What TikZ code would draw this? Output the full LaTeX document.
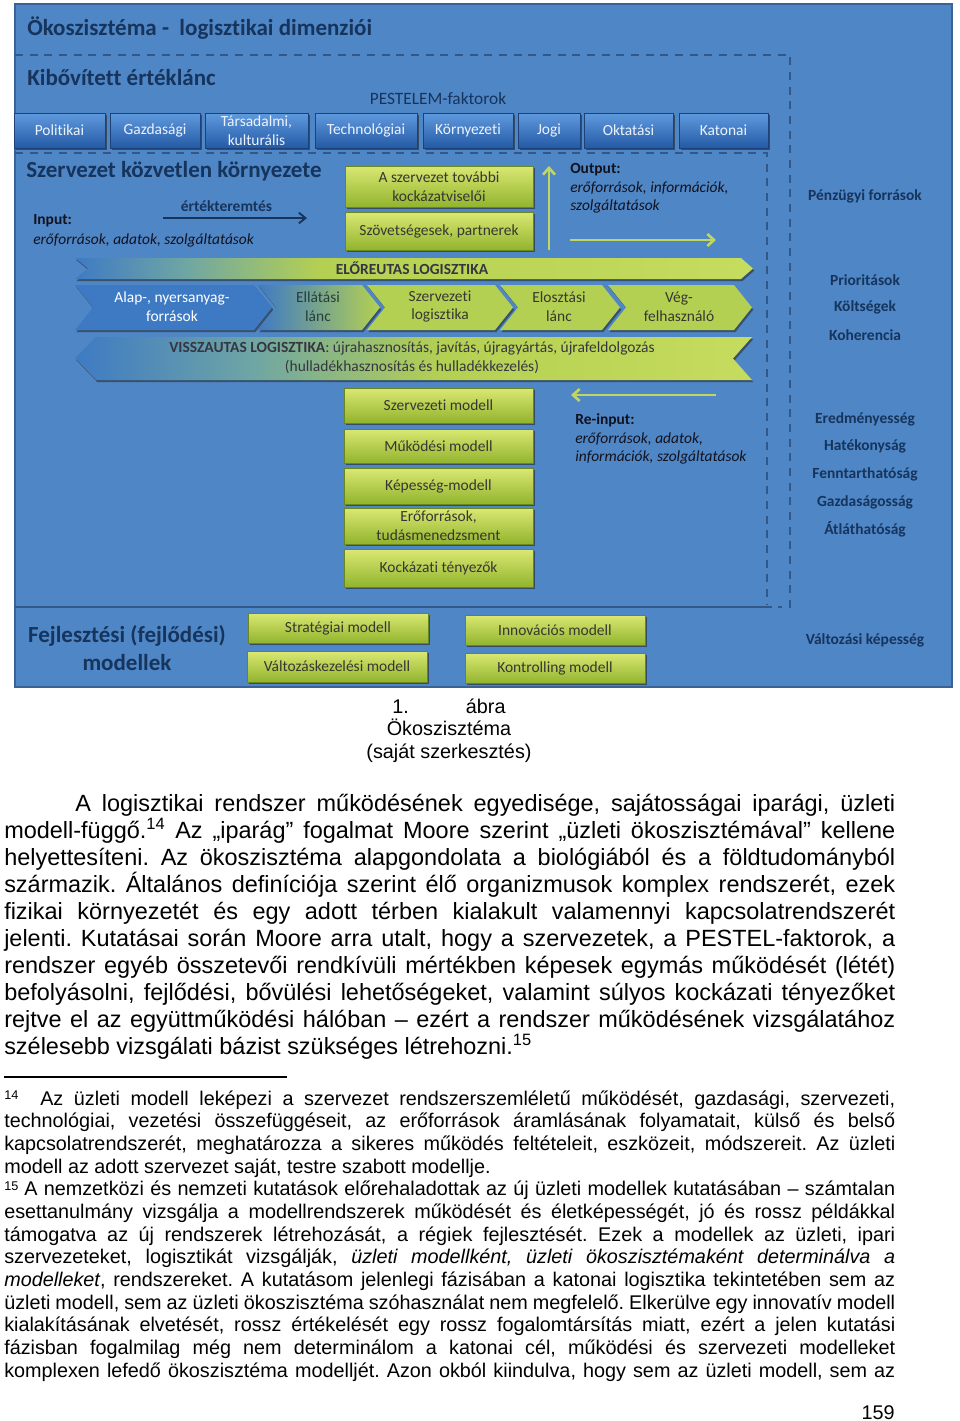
\documentclass[tikz,border=0pt]{standalone}
\usepackage{fontspec}
\setmainfont{Liberation Sans}
\newfontfamily\calfont[Ligatures=NoCommon]{Carlito}
\usetikzlibrary{arrows.meta,shadows}
\frenchspacing
\definecolor{bgblue}{RGB}{79,134,197}
\definecolor{framec}{RGB}{58,98,150}
\definecolor{navy}{RGB}{22,52,92}
\definecolor{dashc}{RGB}{50,88,138}
\definecolor{ptop}{RGB}{96,154,222}
\definecolor{pbot}{RGB}{36,90,165}
\definecolor{pedge}{RGB}{30,65,120}
\definecolor{ptext}{RGB}{236,242,252}
\definecolor{gtop}{RGB}{218,232,114}
\definecolor{gbot}{RGB}{146,180,46}
\definecolor{gedge}{RGB}{105,135,30}
\definecolor{gtext}{RGB}{55,55,50}
\definecolor{chB}{RGB}{62,122,196}
\definecolor{chT}{RGB}{110,165,165}
\definecolor{chG}{RGB}{180,208,82}
\definecolor{chG2}{RGB}{198,220,94}
\definecolor{limec}{RGB}{192,214,96}
\definecolor{ink}{RGB}{18,18,30}
\definecolor{teal}{RGB}{40,62,62}
\pgfdeclarehorizontalshading{fwdsh}{100bp}{color(0bp)=(chB); color(25bp)=(chB); color(33bp)=(chT); color(43bp)=(chG); color(75bp)=(chG2); color(100bp)=(chG2)}
\pgfdeclarehorizontalshading{revsh}{100bp}{color(0bp)=(chB); color(25bp)=(chB); color(38bp)=(chT); color(52bp)=(chG); color(75bp)=(chG2); color(100bp)=(chG2)}
\newdimen\px \px=0.75pt
\newdimen\tw \tw=668.25pt
\newcommand\lbl{\calfont\fontsize{11.6}{14}\selectfont}
\newcommand\lblb{\calfont\bfseries\fontsize{11.6}{14}\selectfont}
\newcommand\lbli{\calfont\itshape\fontsize{11.6}{14}\selectfont}
\newcommand\ttl{\calfont\bfseries\fontsize{17.25}{21}\selectfont}
\newcommand\bodyfont{\fontsize{17.6}{20.25}\selectfont}
\newcommand\fnfont{\fontsize{14.85}{17}\selectfont}
\newcommand\jline[1]{\hbox to\tw{#1}}
\newcommand\lline[1]{\hbox to\tw{#1\hfil}}
\newcommand\fnsup[1]{\raisebox{0.55ex}{\fontsize{9.5}{9.5}\selectfont #1}}
\newcommand\rbox[7]{%
  \node[#6, minimum width={(#4-#2)*0.75pt}, minimum height={(#5-#3)*0.75pt}] (#1) at ({(#2+#4)/2},{(#3+#5)/2}) {#7};}
\newcommand\chev[5]{%
  \path[#5] (#1,#3) -- ({#2-18},#3) -- (#2,{(#3+#4)/2}) -- ({#2-18},#4) -- (#1,#4) -- ({#1+18},{(#3+#4)/2}) -- cycle;}
\begin{document}
\begin{tikzpicture}[x=0.75pt,y=-0.75pt,
  pbox/.style={rectangle, draw=pedge, line width=0.5pt, top color=ptop, bottom color=pbot,
    text=ptext, font=\lbl, align=center, inner sep=0pt,
    drop shadow={shadow xshift=1.2pt, shadow yshift=-1.6pt, opacity=0.6, fill=black!85}},
  gbox/.style={rectangle, draw=gedge, line width=0.5pt, top color=gtop, bottom color=gbot,
    text=gtext, font=\lbl, align=center, inner sep=0pt,
    drop shadow={shadow xshift=1.2pt, shadow yshift=-1.6pt, opacity=0.6, fill=black!85}},
  chshadow/.style={drop shadow={shadow xshift=1pt, shadow yshift=-1.6pt, opacity=0.55, fill=black!85}},
  chtext/.style={font=\lbl, align=center, inner sep=0pt},
  navylbl/.style={text=navy, font=\lblb, inner sep=0pt},
  titlelbl/.style={text=navy, font=\ttl, inner sep=0pt, anchor=west},
  inklbl/.style={text=ink, inner sep=0pt, anchor=west},
  dashline/.style={draw=dashc, line width=1.1pt, dash pattern=on 6pt off 5pt},
  solidline/.style={draw=dashc, line width=1pt},
  greenarrow/.style={draw=limec, line width=2pt, -{Straight Barb[length=5pt,width=9pt]}},
  navyarrow/.style={draw=navy, line width=1.4pt, -{Straight Barb[length=5pt,width=8pt]}},
  bodytext/.style={anchor=north west, inner sep=0pt}]
\useasboundingbox (0,0) rectangle (960,1421);
\fill[white] (0,0) rectangle (960,1421);
% ---------- diagram frame ----------
\path[fill=bgblue, draw=framec, line width=1.2pt] (15,4) rectangle (952,687);
\draw[dashline] (15,55) -- (790,55) -- (790,607) -- (778,607);
\draw[dashline] (15,153) -- (767,153) -- (767,604);
\draw[solidline] (15,607) -- (772,607);
% ---------- titles ----------
\node[titlelbl] (t1) at (27,28) {Ökoszisztéma -\ \ logisztikai dimenziói};
\node[titlelbl] (t2) at (27,78) {Kibővített értéklánc};
\node[titlelbl] (t3) at (26,171) {Szervezet közvetlen környezete};
\node[text=navy, font={\calfont\fontsize{13}{15}\selectfont}, inner sep=0pt] (pest) at (438,99) {PESTELEM-faktorok};
\node[text=navy, font=\ttl, align=center, inner sep=0pt] (fejl) at (127,648) {Fejlesztési (fejlődési)\\modellek};
% ---------- PESTELEM boxes ----------
\rbox{pol}{14}{113}{105}{148}{pbox}{Politikai}
\rbox{gaz}{110}{113}{200}{148}{pbox}{Gazdasági}
\rbox{tars}{205}{113}{308}{148}{pbox}{Társadalmi,\\kulturális}
\rbox{tech}{315}{113}{417}{148}{pbox}{Technológiai}
\rbox{korny}{423}{113}{513}{148}{pbox}{Környezeti}
\rbox{jogi}{518}{113}{580}{148}{pbox}{Jogi}
\rbox{okt}{584}{113}{673}{148}{pbox}{Oktatási}
\rbox{kat}{679}{113}{768}{148}{pbox}{Katonai}
% ---------- green boxes ----------
\rbox{kock}{345}{166}{533}{207}{gbox}{A szervezet további\\kockázatviselői}
\rbox{szov}{345}{212}{533}{250}{gbox}{Szövetségesek, partnerek}
\rbox{szm}{344}{388}{533}{423}{gbox}{Szervezeti modell}
\rbox{mm}{344}{429}{533}{463}{gbox}{Működési modell}
\rbox{km}{344}{468}{533}{504}{gbox}{Képesség-modell}
\rbox{ef}{344}{508}{533}{544}{gbox}{Erőforrások,\\tudásmenedzsment}
\rbox{kt}{344}{549}{533}{587}{gbox}{Kockázati tényezők}
\rbox{strat}{248}{613}{428}{643}{gbox}{Stratégiai modell}
\rbox{valt}{247}{651}{427}{682}{gbox}{Változáskezelési modell}
\rbox{inn}{465}{615}{645}{645}{gbox}{Innovációs modell}
\rbox{kon}{465}{653}{645}{683}{gbox}{Kontrolling modell}
% ---------- forward banner ----------
\shade[shading=fwdsh, chshadow] (75,258) -- (741,258) -- (753,268.5) -- (741,279) -- (75,279) -- (88,268.5) -- cycle;
\node[font=\lblb, text=ink!85, inner sep=0pt] (fwd) at (412,268) {ELŐREUTAS LOGISZTIKA};
% ---------- chevron row ----------
\chev{75}{272}{285}{330}{fill=chB, chshadow}
\chev{258}{380}{285}{330}{left color=chB, right color=chG, chshadow}
\chev{367}{513}{285}{330}{fill=chG, chshadow}
\chev{500}{620}{285}{330}{fill=chG, chshadow}
\chev{608}{752}{285}{330}{fill=chG, chshadow}
\node[chtext, text=white] (alap) at (172,306.5) {Alap-, nyersanyag-\\források};
\node[chtext, text=teal] (ellat) at (318,306.5) {Ellátási\\lánc};
\node[chtext, text=gtext] (szlog) at (440,306.5) {Szervezeti\\logisztika};
\node[chtext, text=gtext] (eloszt) at (559,306.5) {Elosztási\\lánc};
\node[chtext, text=gtext] (veg) at (679,306.5) {Vég-\\felhasználó};
% ---------- reverse banner ----------
\shade[shading=revsh, chshadow] (75,358) -- (96,337) -- (752,337) -- (733,358.5) -- (752,380) -- (96,380) -- cycle;
\node[chtext, text=ink!85] (rev) at (412,357.5) {\textbf{VISSZAUTAS LOGISZTIKA}: újrahasznosítás, javítás, újragyártás, újrafeldolgozás\\(hulladékhasznosítás és hulladékkezelés)};
% ---------- arrows ----------
\coordinate (ertS) at (163,218); \coordinate (ertE) at (307,218);
\draw[navyarrow] (ertS) -- (ertE);
\coordinate (upS) at (549,250); \coordinate (upE) at (549,166);
\draw[greenarrow] (upS) -- (upE);
\coordinate (outS) at (570,240); \coordinate (outE) at (716,240);
\draw[greenarrow] (outS) -- (outE);
\coordinate (reS) at (716,395); \coordinate (reE) at (571,395);
\draw[greenarrow] (reS) -- (reE);
% ---------- small labels ----------
\node[navylbl] (ert) at (226.5,206) {értékteremtés};
\node[inklbl, font=\lblb] (inp) at (33,221) {Input:};
\node[inklbl, font=\lbli] (inp2) at (33,240) {erőforrások, adatok, szolgáltatások};
\node[inklbl, font=\lblb] (outp) at (570,170) {Output:};
\node[inklbl, font=\lbli] (outp2) at (570,188) {erőforrások, információk,};
\node[inklbl, font=\lbli] (outp3) at (570,206) {szolgáltatások};
\node[inklbl, font=\lblb] (rein) at (575,420) {Re-input:};
\node[inklbl, font=\lbli] (rein2) at (575,439) {erőforrások, adatok,};
\node[inklbl, font=\lbli] (rein3) at (575,457) {információk, szolgáltatások};
% ---------- right column ----------
\node[navylbl] (rc1) at (865,196) {Pénzügyi források};
\node[navylbl] (rc2) at (865,280) {Prioritások};
\node[navylbl] (rc3) at (865,307) {Költségek};
\node[navylbl] (rc4) at (865,335) {Koherencia};
\node[navylbl] (rc5) at (865,419) {Eredményesség};
\node[navylbl] (rc6) at (865,446) {Hatékonyság};
\node[navylbl] (rc7) at (865,474) {Fenntarthatóság};
\node[navylbl] (rc8) at (865,502) {Gazdaságosság};
\node[navylbl] (rc9) at (865,529) {Átláthatóság};
\node[navylbl] (rc10) at (865,640) {Változási képesség};
% ---------- caption ----------
\node[font=\fnfont, anchor=base, inner sep=0pt] (cap1) at (449,713) {1.\hspace*{57\px}ábra};
\node[font=\fnfont, anchor=base, inner sep=0pt] (cap2) at (449,735) {Ökoszisztéma};
\node[font=\fnfont, anchor=base, inner sep=0pt] (cap3) at (449,758) {(saját szerkesztés)};
% ---------- body text ----------
\node[bodytext, font=\bodyfont] (body) at (4,791) {\vbox{%
\jline{\vrule width0pt height 20\px\hspace*{71\px}A logisztikai rendszer működésének egyedisége, sajátosságai iparági, üzleti}%
\jline{modell-függő.\textsuperscript{14} Az „iparág” fogalmat Moore szerint „üzleti ökoszisztémával” kellene}%
\jline{helyettesíteni. Az ökoszisztéma alapgondolata a biológiából és a földtudományból}%
\jline{származik. Általános definíciója szerint élő organizmusok komplex rendszerét, ezek}%
\jline{fizikai környezetét és egy adott térben kialakult valamennyi kapcsolatrendszerét}%
\jline{jelenti. Kutatásai során Moore arra utalt, hogy a szervezetek, a PESTEL-faktorok, a}%
\jline{rendszer egyéb összetevői rendkívüli mértékben képesek egymás működését (létét)}%
\jline{befolyásolni, fejlődési, bővülési lehetőségeket, valamint súlyos kockázati tényezőket}%
\jline{rejtve el az együttműködési hálóban – ezért a rendszer működésének vizsgálatához}%
\lline{szélesebb vizsgálati bázist szükséges létrehozni.\textsuperscript{15}}}};
% ---------- footnotes ----------
\coordinate (ruleS) at (4,1077); \coordinate (ruleE) at (287,1077);
\draw[line width=0.8pt] (ruleS) -- (ruleE);
\node[bodytext, font=\fnfont] (fn) at (4,1088) {\vbox{%
\jline{\vrule width0pt height 17\px\makebox[36\px][l]{\fnsup{14}}Az üzleti modell leképezi a szervezet rendszerszemléletű működését, gazdasági, szervezeti,}%
\jline{technológiai, vezetési összefüggéseit, az erőforrások áramlásának folyamatait, külső és belső}%
\jline{kapcsolatrendszerét, meghatározza a sikeres működés feltételeit, eszközeit, módszereit. Az üzleti}%
\lline{modell az adott szervezet saját, testre szabott modellje.}%
\jline{\makebox[20\px][l]{\fnsup{15}}A nemzetközi és nemzeti kutatások előrehaladottak az új üzleti modellek kutatásában – számtalan}%
\jline{esettanulmány vizsgálja a modellrendszerek működését és életképességét, jó és rossz példákkal}%
\jline{támogatva az új rendszerek létrehozását, a régiek fejlesztését. Ezek a modellek az üzleti, ipari}%
\jline{szervezeteket, logisztikát vizsgálják, \textit{üzleti modellként, üzleti ökoszisztémaként determinálva a}}%
\jline{\textit{modelleket}, rendszereket. A kutatásom jelenlegi fázisában a katonai logisztika tekintetében sem az}%
\jline{üzleti modell, sem az üzleti ökoszisztéma szóhasználat nem megfelelő. Elkerülve egy innovatív modell}%
\jline{kialakításának elvetését, rossz értékelését egy rossz fogalomtársítás miatt, ezért a jelen kutatási}%
\jline{fázisban fogalmilag még nem determinálom a katonai cél, működési és szervezeti modelleket}%
\jline{komplexen lefedő ökoszisztéma modelljét. Azon okból kiindulva, hogy sem az üzleti modell, sem az}}};
\node[font=\fnfont, anchor=base east, inner sep=0pt] (pnum) at (895,1419) {159};
\end{tikzpicture}
\end{document}
